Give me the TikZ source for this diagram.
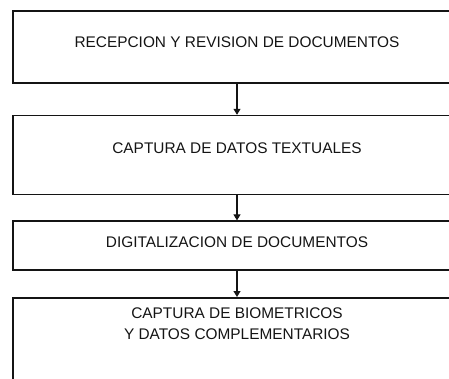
\documentclass[tikz,border=0pt]{standalone}
\usepackage{fontspec}
\setmainfont{Liberation Sans}
\usepackage{xcolor}
\definecolor{ink}{HTML}{141414}
\usetikzlibrary{arrows.meta, positioning}

\begin{document}
\begin{tikzpicture}[node distance=0pt, x=1pt, y=1pt]
  \tikzstyle{stagebox}=[rectangle, minimum width=448pt, draw=ink,
    line width=1.6pt, text=ink, font=\fontsize{15.4pt}{21pt}\selectfont,
    text height=11pt, align=center, inner sep=0pt]
  \tikzstyle{arr}=[-{Triangle[length=6pt, width=7pt]}, line width=1.2pt, color=ink]
  \useasboundingbox (0,0) rectangle (449,-379);
  \clip (0,0) rectangle (449,-379);
  \node[stagebox, minimum height=72pt, text depth=10pt] (b1) at (237,-47)
    {RECEPCION Y REVISION DE DOCUMENTOS};
  \node[stagebox, minimum height=79pt, text depth=14pt] (b2) [below=31pt of b1]
    {CAPTURA DE DATOS TEXTUALES};
  \node[stagebox, minimum height=49pt, text depth=8pt] (b3) [below=25pt of b2]
    {DIGITALIZACION DE DOCUMENTOS};
  \node[stagebox, minimum height=130pt, text height=32pt, text depth=79pt] (b4)
    [below=26pt of b3] {CAPTURA DE BIOMETRICOS\\Y DATOS COMPLEMENTARIOS};
  \draw[arr] (b1.south) -- (b2.north);
  \draw[arr] (b2.south) -- (b3.north);
  \draw[arr] (b3.south) -- (b4.north);
\end{tikzpicture}
\end{document}
